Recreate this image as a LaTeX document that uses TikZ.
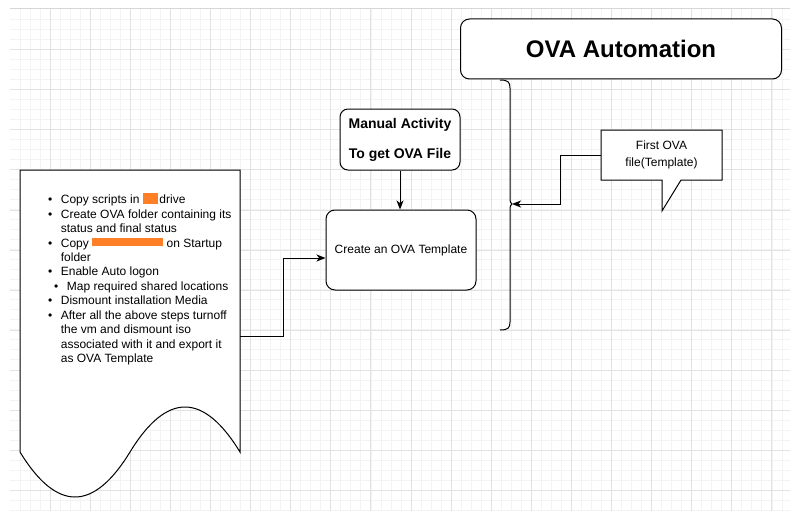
\documentclass[tikz,border=0pt]{standalone}
\usepackage{fontspec}
\setmainfont{Liberation Sans}
\usetikzlibrary{arrows.meta,calc}

\definecolor{markorange}{HTML}{FF7F27}
\definecolor{gridminor}{HTML}{F3F3F3}
\definecolor{gridmajor}{HTML}{E2E2E2}
\definecolor{gridedge}{HTML}{D6D6D6}

% bullet column and indentation for the list inside the document shape
\newcommand{\bul}{\makebox[12.7pt][l]{\textbullet}}
\newcommand{\ind}{\makebox[12.7pt]{}}
% solid orange mark laid over a word
\newcommand{\markbar}[3]{{\color{markorange}\rule[#3]{#1}{#2}}}

\tikzset{
  minorline/.style={draw=gridminor, line width=0.8pt},
  majorline/.style={draw=gridmajor, line width=0.9pt},
  shapeline/.style={draw=black, line width=1pt},
  roundbox/.style={shapeline, fill=white, rounded corners=9pt, inner sep=0pt},
  conn/.style={draw=black, line width=1pt, -{Stealth[length=9pt,width=7pt,inset=2.5pt]}},
  plaintext/.style={font=\fontsize{12}{14.45}\selectfont, align=center, inner sep=0pt},
}

\begin{document}
\begin{tikzpicture}[x=1pt,y=-1pt]
\useasboundingbox (0,0) rectangle (790,511);

% background grid
\foreach \i in {1,...,78}
  \draw[minorline] ({10+10.025*\i},9) -- ({10+10.025*\i},511);
\foreach \j in {1,...,50}
  \draw[minorline] (10,{9+10.025*\j}) -- (790,{9+10.025*\j});
\foreach \i in {1,...,19}
  \draw[majorline] ({10+40.1*\i},9) -- ({10+40.1*\i},511);
\foreach \j in {1,...,12}
  \draw[majorline] (10,{9.5+40.1*\j}) -- (790,{9.5+40.1*\j});
\draw[draw=gridedge, line width=1.2pt] (10,8.5) -- (790,8.5);

% document shape with wavy bottom
\draw[shapeline, fill=white] (20,170) -- (240,170) -- (240,452)
  .. controls (203.3,392) and (166.7,392) .. (130,452)
  .. controls (93.3,512) and (56.7,512) .. (20,452) -- cycle;
\coordinate (docout) at (240,336);

\node[plaintext, align=left, anchor=north west] (doctext) at (48,193) {%
\bul Copy scripts in \markbar{15pt}{11pt}{-0.5pt}\hspace{1.5pt}drive\\
\bul Create OVA folder containing its\\
\ind status and final status\\
\bul Copy \markbar{71pt}{8pt}{1pt} on Startup\\
\ind folder\\
\bul Enable Auto logon\\
\hspace*{6pt}\bul Map required shared locations\\
\bul Dismount installation Media\\
\bul After all the above steps turnoff\\
\ind the vm and dismount iso\\
\ind associated with it and export it\\
\ind as OVA Template};

% process boxes
\node[roundbox, minimum width=150pt, minimum height=80pt, font=\fontsize{12}{14.45}\selectfont]
  (create) at (401,250) {Create an OVA Template};
\node[roundbox, rounded corners=8pt, minimum width=120pt, minimum height=61pt,
  font=\bfseries\fontsize{14}{30}\selectfont, align=center]
  (manual) at (400,139.5) {Manual Activity\\To get OVA File};
\node[roundbox, minimum width=321pt, minimum height=60pt,
  font=\bfseries\fontsize{24}{28}\selectfont]
  (ova) at (621,49) {OVA Automation};

% callout with pointer
\coordinate (callout) at (661.5,155);
\draw[shapeline, fill=white] (601,130) -- (722,130) -- (722,180) -- (681,180)
  -- (662,211) -- (662,180) -- (601,180) -- cycle;
\node[plaintext, font=\fontsize{12}{16.6}\selectfont, minimum width=121pt, minimum height=50pt]
  (callouttext) at (callout) {First OVA\\file(Template)};

% curly brace below the title box
\draw[shapeline] (500,80) .. controls (508,80) and (510,82) .. (510,88)
  -- (510,198) .. controls (510,202) and (511,204) .. (512,204)
  .. controls (511,204) and (510,206) .. (510,210)
  -- (510,322) .. controls (510,328) and (508,330) .. (500,330);
\coordinate (bracetip) at (512,204);

% connectors
\draw[conn] (docout) -- ++(43,0) |- ($(create.west)+(0,8)$);
\draw[conn] (manual.south) -- (manual.south |- create.north);
\draw[conn] (callouttext.west) -- ++(-40,0) |- (bracetip);
\end{tikzpicture}
\end{document}
